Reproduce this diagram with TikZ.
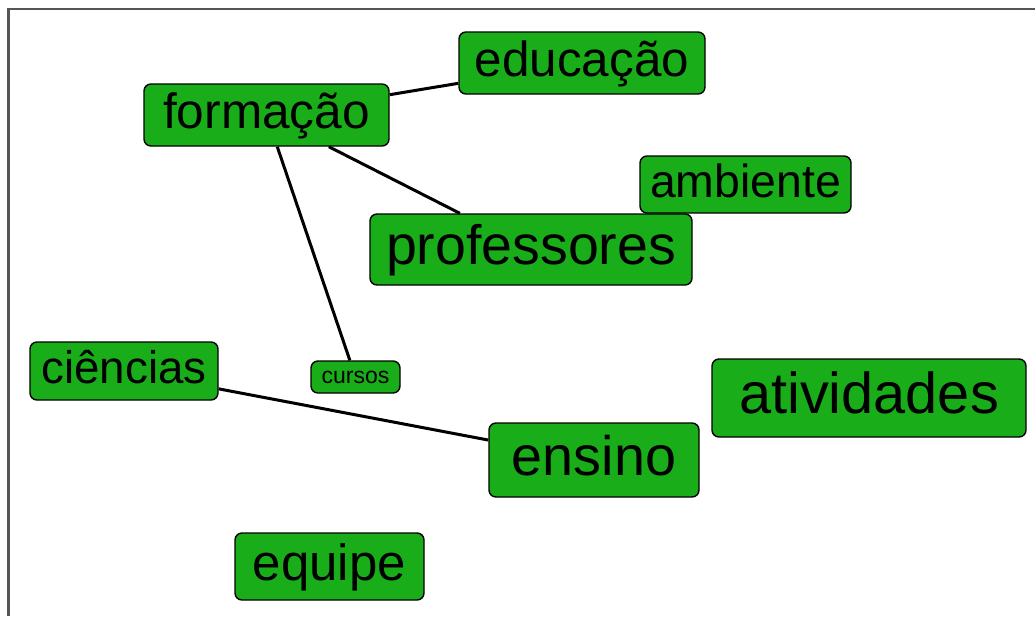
\documentclass[tikz,border=0pt]{standalone}
\usepackage{fontspec}
\setmainfont{Liberation Sans}
\usepackage{tikz}
\definecolor{termgreen}{RGB}{26,173,26}
\definecolor{framegray}{RGB}{85,85,85}
\newcommand{\wordtext}[1]{\raisebox{0pt}[.55em][0pt]{#1}}

\begin{document}
\begin{tikzpicture}[x=1pt,y=-1pt,
    word/.style={shape=rectangle,rounded corners=7pt,draw=black,line width=1.4pt,fill=termgreen,text=black,inner sep=0pt},
    link/.style={line width=3pt,color=black}]
    \useasboundingbox (0,0) rectangle (1035,616);
    \draw[framegray,line width=2.5pt] (8.5,616) -- (8.5,9) -- (1035,9);
	\node (educacao) at (582,63) [word,minimum width=246pt,minimum height=62pt,font=\fontsize{49.4}{55}\selectfont] {\wordtext{educação}};
	\node (formacao) at (266.5,115) [word,minimum width=245pt,minimum height=62pt,font=\fontsize{49.6}{55}\selectfont] {\wordtext{formação}};
	\node (ambiente) at (745.5,184.5) [word,minimum width=211pt,minimum height=57pt,font=\fontsize{46.4}{52}\selectfont] {\wordtext{ambiente}};
	\node (professores) at (531,249.5) [word,minimum width=322pt,minimum height=71pt,font=\fontsize{55.5}{62}\selectfont] {\wordtext{professores}};
	\node (ciencias) at (124,371) [word,minimum width=188pt,minimum height=58pt,font=\fontsize{45.7}{51}\selectfont] {\wordtext{ciências}};
	\node (cursos) at (355.5,377) [word,minimum width=89pt,minimum height=32pt,font=\fontsize{23}{26}\selectfont] {\wordtext{cursos}};
	\node (atividades) at (869,398) [word,minimum width=314pt,minimum height=78pt,font=\fontsize{57.7}{64}\selectfont] {\wordtext{atividades}};
	\node (ensino) at (594,460) [word,minimum width=210pt,minimum height=74pt,font=\fontsize{55.7}{62}\selectfont] {\wordtext{ensino}};
	\node (equipe) at (329.5,566.5) [word,minimum width=189pt,minimum height=67pt,font=\fontsize{51}{57}\selectfont] {\wordtext{equipe}};
	\draw[link] (formacao) -- (educacao);
	\draw[link] (formacao) -- (professores);
	\draw[link] (formacao) -- (cursos);
	\draw[link] (ciencias) -- (ensino);
\end{tikzpicture}
\end{document}
